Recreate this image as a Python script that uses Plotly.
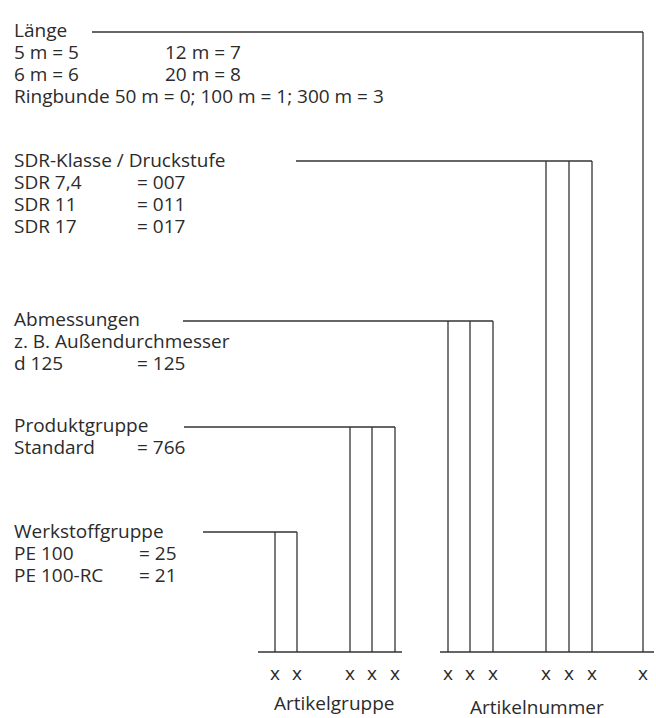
import plotly.graph_objects as go

# ---- data ----
group_titles = ["Länge", "SDR-Klasse / Druckstufe", "Abmessungen", "Produktgruppe", "Werkstoffgruppe"]
group_col1 = [
    ["5 m = 5", "6 m = 6", "Ringbunde 50 m = 0; 100 m = 1; 300 m = 3"],
    ["SDR 7,4", "SDR 11", "SDR 17"],
    ["z. B. Außendurchmesser", "d 125"],
    ["Standard"],
    ["PE 100", "PE 100-RC"],
]
group_col2 = [
    ["12 m = 7", "20 m = 8", ""],
    ["= 007", "= 011", "= 017"],
    ["", "= 125"],
    ["= 766"],
    ["= 25", "= 21"],
]
# digit slot x positions belonging to each group
group_digits = [
    [643],
    [546, 569, 592],
    [448, 470, 493],
    [350, 372, 395],
    [275, 297],
]
digit_symbol = "x"
bottom_labels = ["Artikelgruppe", "Artikelnummer"]

# ---- layout constants ----
W, H = 656, 718
FONT = "Open Sans"
FS = 19
COL = "#2b2b2b"
LINE_COL = "#333333"
LW = 1.3
title_y = [30, 160, 319, 425, 531]
leader_y = [32, 161, 321, 427, 532]
leader_x0 = [92, 296, 183, 184, 203]
col2_x = [163, 135, 135, 135, 137]
row_h = 22
base_y = 652
x_row_y = 673
base_segments = [(258, 402), (440, 654)]
bottom_label_pos = [(334, 703), (537, 707)]

fig = go.Figure()
ann = []

for i, title in enumerate(group_titles):
    ty = title_y[i]
    ann.append(dict(x=12, y=ty, text=title, xanchor="left", yanchor="middle"))
    for j, t in enumerate(group_col1[i]):
        ann.append(dict(x=12, y=ty + row_h * (j + 1), text=t, xanchor="left", yanchor="middle"))
    for j, t in enumerate(group_col2[i]):
        if t:
            ann.append(dict(x=col2_x[i], y=ty + row_h * (j + 1), text=t, xanchor="left", yanchor="middle"))
    # leader line + vertical drops
    ly = leader_y[i]
    xs = group_digits[i]
    fig.add_trace(go.Scatter(x=[leader_x0[i], max(xs)], y=[ly, ly], mode="lines",
                             line=dict(color=LINE_COL, width=LW), hoverinfo="skip"))
    for xd in xs:
        fig.add_trace(go.Scatter(x=[xd, xd], y=[ly, base_y], mode="lines",
                                 line=dict(color=LINE_COL, width=LW), hoverinfo="skip"))
        ann.append(dict(x=xd, y=x_row_y, text=digit_symbol, xanchor="center", yanchor="middle"))

for (a, b) in base_segments:
    fig.add_trace(go.Scatter(x=[a, b], y=[base_y, base_y], mode="lines",
                             line=dict(color=LINE_COL, width=LW), hoverinfo="skip"))

for lbl, (lx, ly) in zip(bottom_labels, bottom_label_pos):
    ann.append(dict(x=lx, y=ly, text=lbl, xanchor="center", yanchor="middle"))

for a in ann:
    a.update(xref="x", yref="y", showarrow=False, font=dict(family=FONT, size=FS, color=COL))

fig.update_layout(
    width=W, height=H, margin=dict(l=0, r=0, t=0, b=0),
    paper_bgcolor="white", plot_bgcolor="white", showlegend=False,
    annotations=ann,
    xaxis=dict(range=[0, W], visible=False, fixedrange=True),
    yaxis=dict(range=[H, 0], visible=False, fixedrange=True),
)
fig.write_html("out.html", config={"displayModeBar": False},
               post_script="document.body.style.margin='0px';document.body.style.overflow='hidden';")
